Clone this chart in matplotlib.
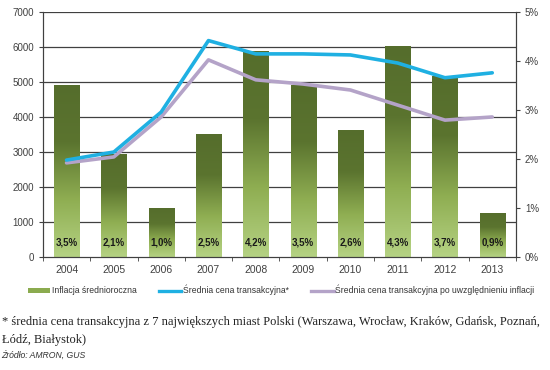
import numpy as np
import matplotlib.pyplot as plt
from matplotlib.colors import LinearSegmentedColormap
from matplotlib.lines import Line2D
from matplotlib.patches import Patch

years = ['2004', '2005', '2006', '2007', '2008', '2009', '2010', '2011', '2012', '2013']
inflation = [3.5, 2.1, 1.0, 2.5, 4.2, 3.5, 2.6, 4.3, 3.7, 0.9]
inflation_labels = ['3,5%', '2,1%', '1,0%', '2,5%', '4,2%', '3,5%', '2,6%', '4,3%', '3,7%', '0,9%']
price = [2770, 3000, 4140, 6180, 5800, 5800, 5770, 5540, 5120, 5260]
price_real = [2690, 2860, 4000, 5630, 5060, 4940, 4770, 4340, 3910, 4000]

plt.rcParams['font.family'] = ['Liberation Sans', 'DejaVu Sans']

fig = plt.figure(figsize=(5.5, 3.7), dpi=100)
ax = fig.add_axes([0.078, 0.305, 0.86, 0.663])
ax2 = ax.twinx()

x = np.arange(len(years))
grey = '#404040'

# bars on the percent axis, filled with a vertical gradient
cmap = LinearSegmentedColormap.from_list('g', ['#b5d283', '#8fae52', '#5b742f', '#556d2c'])
grad = np.linspace(0, 1, 256).reshape(-1, 1)
bars = ax2.bar(x, inflation, width=0.53, color='none', edgecolor='none', zorder=2)
for b in bars:
    x0, y0 = b.get_x(), b.get_y()
    w, h = b.get_width(), b.get_height()
    im = ax2.imshow(grad, extent=[x0, x0 + w, y0, y0 + h], origin='lower',
                    cmap=cmap, aspect='auto', zorder=2)
    im.set_clip_path(b)
for xi, lab in zip(x, inflation_labels):
    ax2.text(xi, 0.2, lab, ha='center', va='bottom', fontsize=7,
             fontweight='bold', color='#1a1a1a', zorder=4)

ax2.set_ylim(0, 5)
ax2.set_yticks([0, 1, 2, 3, 4, 5])
ax2.set_yticklabels(['0%', '1%', '2%', '3%', '4%', '5%'])

# lines on the price axis, drawn above the bars
ax.set_zorder(ax2.get_zorder() + 1)
ax.patch.set_visible(False)
ax.plot(x, price_real, color='#b4a3c8', lw=2.6, zorder=3, solid_capstyle='round')
ax.plot(x, price, color='#1fb0e2', lw=2.6, zorder=3, solid_capstyle='round')
ax.set_ylim(0, 7000)
ax.set_yticks(range(0, 7001, 1000))
ax.set_xlim(-0.5, len(years) - 0.5)
ax.set_xticks(x)
ax.set_xticklabels(years)
ax.set_xticks(np.arange(-0.5, len(years), 1), minor=True)

# gridlines sit behind the bars
for v in range(1000, 7001, 1000):
    ax2.axhline(v / 1400, color='#404040', lw=0.9, zorder=0)

for a in (ax, ax2):
    a.spines['top'].set_visible(False)
    a.spines['left'].set_color(grey)
    a.spines['right'].set_color(grey)
    a.spines['bottom'].set_color(grey)
    a.tick_params(labelsize=7, colors=grey, length=3)
ax.tick_params(axis='x', which='major', length=0, pad=6, labelsize=7.5)
ax.tick_params(axis='x', which='minor', length=3, color=grey)

handles = [Patch(facecolor='#8bab4f', edgecolor='none'),
           Line2D([], [], color='#1fb0e2', lw=2.4),
           Line2D([], [], color='#b4a3c8', lw=2.4)]
labels = ['Inflacja średnioroczna', 'Średnia cena transakcyjna*',
          'Średnia cena transakcyjna po uwzględnieniu inflacji']
fig.legend(handles, labels, loc='center', bbox_to_anchor=(0.511, 0.216), ncol=3,
           frameon=False, fontsize=6.2, handlelength=2.6, handletextpad=0.2,
           columnspacing=2.6, handleheight=0.5, labelcolor='#333333')

fig.text(0.003, 0.13, '* średnia cena transakcyjna z 7 największych miast Polski '
         '(Warszawa, Wrocław, Kraków, Gdańsk, Poznań,', fontsize=9,
         family='Liberation Serif', color='#222222', va='center')
fig.text(0.003, 0.081, 'Łódź, Białystok)', fontsize=9,
         family='Liberation Serif', color='#222222', va='center')
fig.text(0.003, 0.04, 'Źródło: AMRON, GUS', fontsize=6.2, style='italic',
         color='#333333', va='center')

fig.savefig('out.png', dpi=100)
